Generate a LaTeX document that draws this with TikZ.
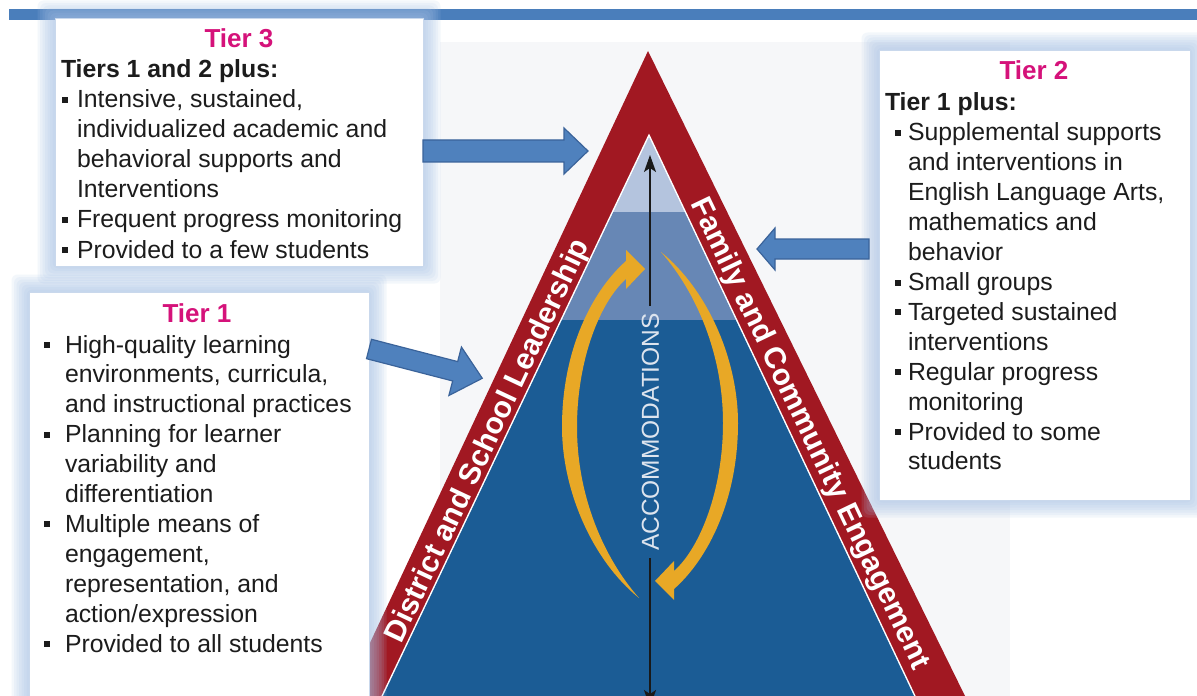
\documentclass[tikz,border=0pt]{standalone}
\usepackage{fontspec}
\setmainfont{Liberation Sans}
\usetikzlibrary{arrows.meta}
\definecolor{barblue}{HTML}{4A7EBB}
\definecolor{bggray}{HTML}{F6F7F9}
\definecolor{glowc}{HTML}{A9C3E6}
\definecolor{boxedge}{HTML}{C9D8EC}
\definecolor{tiermag}{HTML}{D5127A}
\definecolor{txt}{HTML}{1C1C1C}
\definecolor{redband}{HTML}{A11822}
\definecolor{laylight}{HTML}{B4C4DE}
\definecolor{laymid}{HTML}{6787B5}
\definecolor{laydark}{HTML}{1B5C95}
\definecolor{goldc}{HTML}{E8A826}
\definecolor{arrowblue}{HTML}{4F81BD}
\definecolor{arrowedge}{HTML}{3A639A}
\definecolor{acctext}{HTML}{DDE4EE}
\newcommand{\bodyfont}{\fontsize{24.8bp}{29.8bp}\selectfont}
\newcommand{\titlefont}{\fontsize{26bp}{30bp}\selectfont\bfseries}
\newcommand{\sidefont}{\fontsize{30bp}{36bp}\selectfont\bfseries}
\newcommand{\accfont}{\fontsize{24.5bp}{28bp}\selectfont}
\newcommand{\bsq}{\rule[5bp]{6bp}{6bp}}
\newcommand{\bthree}{\makebox[15bp][l]{\bsq}}
\newcommand{\bone}{\makebox[21bp][l]{\bsq}}
\newcommand{\btwo}{\makebox[13bp][l]{\bsq}}
\newcommand{\glowbox}[4]{\foreach \k in {1,...,7}{\fill[glowc,opacity=0.13,rounded corners=6bp] ({#1-\k*2.5},{#2-\k*2.5}) rectangle ({#3+\k*2.5},{#4+\k*2.5});}}
\begin{document}
\begin{tikzpicture}[x=1bp,y=-1bp,
  ln/.style={anchor=base west,inner sep=0pt,outer sep=0pt,font=\bodyfont,text=txt},
  lnb/.style={ln,font=\bodyfont\bfseries},
  ttl/.style={anchor=base,inner sep=0pt,font=\titlefont,text=tiermag},
  tierbox/.style={draw=boxedge,line width=0.8bp,fill=white,anchor=north west,inner sep=0pt,outer sep=0pt},
  blockarrow/.style={fill=arrowblue,draw=arrowedge,line width=1.2bp,line join=miter},
  side/.style={inner sep=0pt,font=\sidefont,text=white,text height=21.5bp,text depth=0pt},
  goldarrow/.style={fill=goldc},
  vline/.style={line width=1.8bp,draw=black!90}
]
\useasboundingbox (0,0) rectangle (1197,696);
\fill[white] (0,0) rectangle (1197,696);
\fill[bggray] (440,42) rectangle (1010,696);
% top bar
\fill[barblue] (9,9) rectangle (1197,20);
% pyramid
\fill[redband] (648,51) -- (345,696) -- (965,696) -- cycle;
\draw[white,line width=3bp,line join=miter] (649,137) -- (383,696) -- (914,696) -- cycle;
\begin{scope}
\clip (649,137) -- (383,696) -- (914,696) -- cycle;
\fill[laydark] (300,320) rectangle (1000,700);
\fill[laymid] (300,212) rectangle (1000,320);
\fill[laylight] (300,100) rectangle (1000,212);
\end{scope}
% gold arrows
\foreach \r in {0,180}{
\fill[goldarrow,rotate around={\r:(650,425)}] (639,598) .. controls (592,560) and (562,490) .. (562,427)
  .. controls (562,350) and (592,291) .. (626,261) -- (626,250) -- (645,269) -- (626,289) -- (626,279)
  .. controls (600,302) and (577,360) .. (577,427) .. controls (577,495) and (603,557) .. (639,598) -- cycle;
}
% accommodations arrow
\node[rotate=90,inner sep=7bp,outer sep=0pt,font=\accfont,text=acctext,text height=17.5bp,text depth=0pt] (acc) at (650,432) {ACCOMMODATIONS};
\coordinate (vtop) at (650,155);
\coordinate (vbot) at (650,707);
\draw[vline,-{Stealth[length=17bp,width=12bp,inset=4bp]}] (acc.east) -- (vtop);
\draw[vline,-{Stealth[length=17bp,width=12bp,inset=4bp]}] (acc.west) -- (vbot);
% side labels
\node[side,rotate=64.8] (lead) at (486,440) {District and School Leadership};
\node[side,rotate=-64.4] (fam) at (812,433) {Family and Community Engagement};
% boxes
\glowbox{55}{18}{423}{266}
\node[tierbox,minimum width=368bp,minimum height=248bp] (tier3) at (55,18) {};
\glowbox{29}{292}{369}{720}
\node[tierbox,minimum width=340bp,minimum height=430bp] (tier1) at (29,292) {};
\glowbox{879}{50}{1190}{500}
\node[tierbox,minimum width=311bp,minimum height=450bp] (tier2) at (879,50) {};
% block arrows
\coordinate (a3s) at (tier3.east |- 0,151);
\coordinate (a2s) at ([xshift=-10bp]tier2.west |- 0,249);
\coordinate (a1s) at (tier1.east |- 0,349);
\begin{scope}[shift={(a3s)}]
\path[blockarrow] (0,-11) -- (141,-11) -- (141,-23) -- (165,0) -- (141,23) -- (141,11) -- (0,11) -- cycle;
\end{scope}
\begin{scope}[shift={(a2s)},rotate=180]
\path[blockarrow] (0,-10) -- (94,-10) -- (94,-21) -- (112,0) -- (94,21) -- (94,10) -- (0,10) -- cycle;
\end{scope}
\begin{scope}[shift={(a1s)},rotate=-14.5]
\path[blockarrow] (0,-10) -- (89,-10) -- (89,-25) -- (117,0) -- (89,25) -- (89,10) -- (0,10) -- cycle;
\end{scope}
% Tier 3 text
\node[ttl] (t3t) at (239,48) {Tier 3};
\node[lnb] (t3h) at (61,78) {Tiers 1 and 2 plus:};
\node[ln] (t3a) at (62,108) {\bthree Intensive, sustained,};
\node[ln] (t3b) at (77,138) {individualized academic and};
\node[ln] (t3c) at (77,168) {behavioral supports and};
\node[ln] (t3d) at (77,198) {Interventions};
\node[ln] (t3e) at (62,228) {\bthree Frequent progress monitoring};
\node[ln] (t3f) at (62,258) {\bthree Provided to a few students};
% Tier 1 text
\node[ttl] (t1t) at (197,322) {Tier 1};
\node[ln] (t1a) at (44,353) {\bone High-quality learning};
\node[ln] (t1b) at (65,382.9) {environments, curricula,};
\node[ln] (t1c) at (65,412.8) {and instructional practices};
\node[ln] (t1d) at (44,442.7) {\bone Planning for learner};
\node[ln] (t1e) at (65,472.6) {variability and};
\node[ln] (t1f) at (65,502.5) {differentiation};
\node[ln] (t1g) at (44,532.4) {\bone Multiple means of};
\node[ln] (t1h) at (65,562.3) {engagement,};
\node[ln] (t1i) at (65,592.2) {representation, and};
\node[ln] (t1j) at (65,622.1) {action/expression};
\node[ln] (t1k) at (44,652) {\bone Provided to all students};
% Tier 2 text
\node[ttl] (t2t) at (1034,80) {Tier 2};
\node[lnb] (t2h) at (885,111) {Tier 1 plus:};
\node[ln] (t2a) at (895,141) {\btwo Supplemental supports};
\node[ln] (t2b) at (908,170.9) {and interventions in};
\node[ln] (t2c) at (908,200.8) {English Language Arts,};
\node[ln] (t2d) at (908,230.7) {mathematics and};
\node[ln] (t2e) at (908,260.6) {behavior};
\node[ln] (t2f) at (895,290.5) {\btwo Small groups};
\node[ln] (t2g) at (895,320.4) {\btwo Targeted sustained};
\node[ln] (t2h2) at (908,350.3) {interventions};
\node[ln] (t2i) at (895,380.2) {\btwo Regular progress};
\node[ln] (t2j) at (908,410.1) {monitoring};
\node[ln] (t2k) at (895,440) {\btwo Provided to some};
\node[ln] (t2l) at (908,469.9) {students};
\end{tikzpicture}
\end{document}
